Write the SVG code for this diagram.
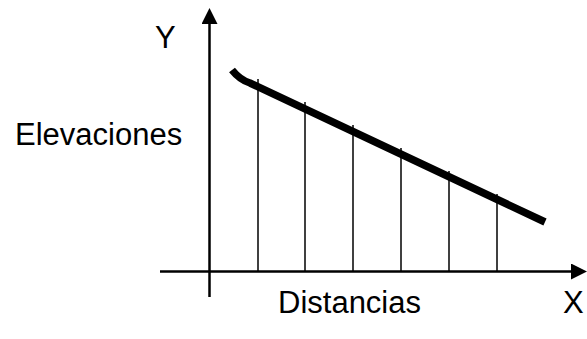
<svg xmlns="http://www.w3.org/2000/svg" width="587" height="339" viewBox="0 0 587 339">
<style>
.t{font-family:"Liberation Sans",Arial,sans-serif;font-size:31px;fill:#000}
.axis{stroke:#000;stroke-width:2.5;fill:none}
.v{stroke:#000;stroke-width:1.5}
</style>
<defs>
<marker id="ah" markerUnits="userSpaceOnUse" markerWidth="16" markerHeight="16" refX="0" refY="8" orient="auto" viewBox="0 0 16 16">
<path d="M0,0 L16,8 L0,16 Z" fill="#000"/>
</marker>
</defs>
<rect width="587" height="339" fill="#fff"/>
<g id="connectors">
<line class="axis" x1="209.5" y1="297" x2="209.5" y2="24" marker-end="url(#ah)"/>
<line class="axis" x1="160" y1="271.5" x2="571" y2="271.5" marker-end="url(#ah)"/>
<line class="v" x1="258" y1="79" x2="258" y2="271"/>
<line class="v" x1="305" y1="102" x2="305" y2="271"/>
<line class="v" x1="353" y1="125" x2="353" y2="271"/>
<line class="v" x1="401" y1="148" x2="401" y2="271"/>
<line class="v" x1="449" y1="171" x2="449" y2="271"/>
<line class="v" x1="497" y1="194" x2="497" y2="271"/>
</g>
<g id="curve">
<path d="M232,70 Q240,80 250,83 L545,222" stroke="#000" stroke-width="7.5" fill="none"/>
</g>
<g id="labels">
<text class="t" x="155" y="48">Y</text>
<text class="t" x="15" y="145">Elevaciones</text>
<text class="t" x="278" y="313">Distancias</text>
<text class="t" x="563" y="313">X</text>
</g>
</svg>
